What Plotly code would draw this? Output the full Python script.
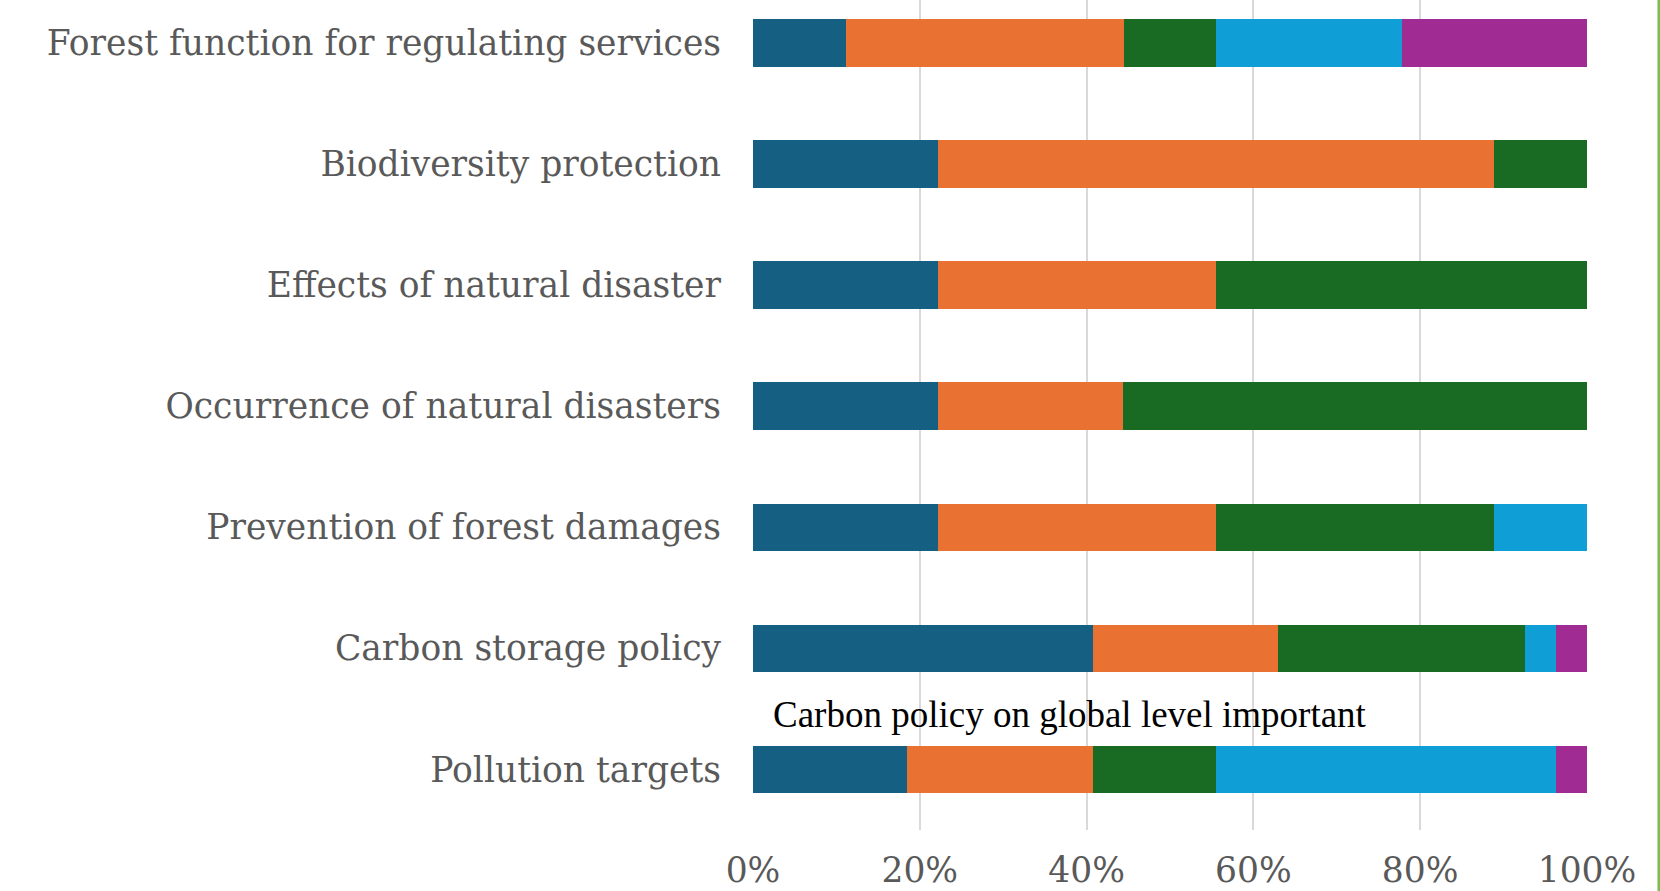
import plotly.graph_objects as go

categories = [
    "Forest function for regulating services",
    "Biodiversity protection",
    "Effects of natural disaster",
    "Occurrence of natural disasters",
    "Prevention of forest damages",
    "Carbon storage policy",
    "Pollution targets",
]
series_names = ["Series 1", "Series 2", "Series 3", "Series 4", "Series 5"]
s1 = [11.1, 22.2, 22.2, 22.2, 22.2, 40.7, 18.5]
s2 = [33.3, 66.7, 33.3, 22.2, 33.3, 22.2, 22.2]
s3 = [11.1, 11.1, 44.4, 55.6, 33.3, 29.6, 14.8]
s4 = [22.2, 0.0, 0.0, 0.0, 11.1, 3.7, 40.7]
s5 = [22.2, 0.0, 0.0, 0.0, 0.0, 3.7, 3.7]
colors = ["#156082", "#E97132", "#196B24", "#0F9ED5", "#A02B93"]
x_ticks = [0, 20, 40, 60, 80, 100]
x_tick_labels = ["0%", "20%", "40%", "60%", "80%", "100%"]
note_text = "Carbon policy on global level important"

fig = go.Figure()
for name, vals, col in zip(series_names, [s1, s2, s3, s4, s5], colors):
    fig.add_trace(go.Bar(
        y=categories, x=vals, name=name, orientation="h",
        marker=dict(color=col, line=dict(width=0)),
    ))

font_family = "DejaVu Serif"
fig.update_layout(
    barmode="stack",
    barnorm="percent",
    bargap=0.607,
    showlegend=False,
    width=1660, height=891,
    margin=dict(l=753, r=73, t=0, b=61),
    plot_bgcolor="white", paper_bgcolor="white",
    font=dict(family=font_family, color="#595959", size=34.5),
    xaxis=dict(
        range=[0, 100], tickvals=x_ticks, ticktext=x_tick_labels,
        showgrid=True, gridcolor="#d9d9d9", gridwidth=1.5,
        zeroline=False, showline=False,
        tickfont=dict(size=34.5, color="#595959"),
        ticklabelstandoff=16,
    ),
    yaxis=dict(
        categoryorder="array", categoryarray=categories[::-1],
        range=[-0.5, 6.355], showgrid=False, zeroline=False,
        tickfont=dict(size=34.5, color="#595959"),
        ticklabelstandoff=31,
    ),
)
fig.add_annotation(
    x=2.2, y=0.45, xref="x", yref="y", text=note_text,
    showarrow=False, xanchor="left", yanchor="middle",
    font=dict(family="Liberation Serif", size=37, color="black"),
)
fig.add_shape(type="line", xref="paper", yref="paper", x0=1.0863, x1=1.0863,
              y0=-0.08, y1=1.0, line=dict(color="#7DBB50", width=3))

fig.write_html("out.html",
               config={"displayModeBar": False},
               post_script="document.body.style.margin='0';"
                           "document.documentElement.style.overflow='hidden';"
                           "document.body.style.overflow='hidden';")
